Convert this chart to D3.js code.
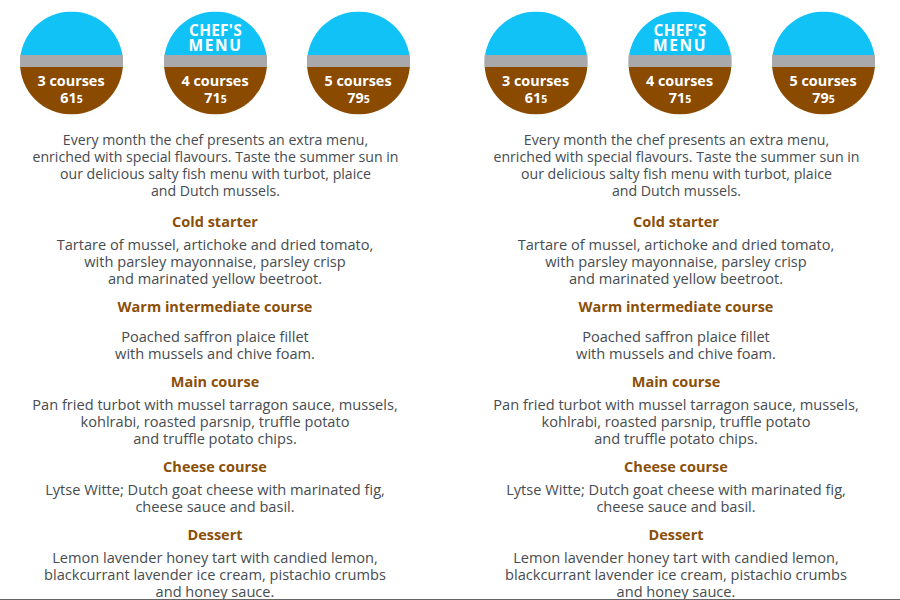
<!DOCTYPE html>
<html lang="en">
<head>
<meta charset="UTF-8">
<title>Chef's Menu</title>
<style>
  html, body { margin: 0; padding: 0; background: #fff; }
  svg { display: block; font-family: "Open Sans", "Noto Sans", sans-serif; }
</style>
</head>
<body>
<div id="chart"></div>
<script src="https://cdnjs.cloudflare.com/ajax/libs/d3/7.8.5/d3.min.js"></script>
<script>
// menu content
const courses = ["3 courses", "4 courses", "5 courses"];
const prices = ["61", "71", "79"];
const priceSuffix = "5";
const badgeTitles = [[], ["CHEF'S", "MENU"], []];
const intro = [
  "Every month the chef presents an extra menu,",
  "enriched with special flavours. Taste the summer sun in",
  "our delicious salty fish menu with turbot, plaice",
  "and Dutch mussels."
];
const headings = ["Cold starter", "Warm intermediate course", "Main course", "Cheese course", "Dessert"];
const dishes = [
  ["Tartare of mussel, artichoke and dried tomato,", "with parsley mayonnaise, parsley crisp", "and marinated yellow beetroot."],
  ["Poached saffron plaice fillet", "with mussels and chive foam."],
  ["Pan fried turbot with mussel tarragon sauce, mussels,", "kohlrabi, roasted parsnip, truffle potato", "and truffle potato chips."],
  ["Lytse Witte; Dutch goat cheese with marinated fig,", "cheese sauce and basil."],
  ["Lemon lavender honey tart with candied lemon,", "blackcurrant lavender ice cream, pistachio crumbs", "and honey sauce."]
];

const width = 900, height = 600;
const lineHeight = 17;
const blue = "#10c2f5", grey = "#a9a9ab", brown = "#8a4a00", headingCol = "#8c4f08", textCol = "#464c50";

const svg = d3.select("#chart").append("svg")
  .attr("width", width)
  .attr("height", height)
  .attr("viewBox", `0 0 ${width} ${height}`);

// the page shows the same menu card twice
const pages = [
  { cx: 215, badges: [71.5, 215.5, 358.5] },
  { cx: 676, badges: [536, 680, 823.5] }
];
const radius = 51.5, badgeY = 63;
const headingY = [222, 307, 382, 467, 535];
const dishY = [245, 337, 405, 490, 558];

function centred(g, lines, x, y, size, fill, weight) {
  g.append("g").selectAll("text")
    .data(lines)
    .enter()
    .append("text")
    .attr("x", x)
    .attr("y", (d, i) => y + i * lineHeight)
    .attr("dy", "0.35em")
    .attr("text-anchor", "middle")
    .attr("font-size", size)
    .attr("font-weight", weight)
    .attr("fill", fill)
    .text(d => d);
}

pages.forEach((page, p) => {
  const g = svg.append("g");

  page.badges.forEach((bx, i) => {
    const clipId = `clip-${p}-${i}`;
    g.append("clipPath").attr("id", clipId)
      .append("circle").attr("cx", bx).attr("cy", badgeY).attr("r", radius);
    const b = g.append("g").attr("clip-path", `url(#${clipId})`);
    b.append("rect").attr("x", bx - radius).attr("y", badgeY - radius)
      .attr("width", radius * 2).attr("height", radius).attr("fill", blue);
    b.append("rect").attr("x", bx - radius).attr("y", badgeY)
      .attr("width", radius * 2).attr("height", radius).attr("fill", brown);

    // band sticks out of the circle a little, so not clipped
    g.append("rect").attr("x", bx - radius).attr("y", 55)
      .attr("width", radius * 2).attr("height", 12).attr("fill", grey);

    g.append("text").attr("x", bx - 0.5).attr("y", 81).attr("dy", "0.35em")
      .attr("text-anchor", "middle").attr("font-size", 14.4).attr("font-weight", 700)
      .attr("fill", "#fff").text(courses[i]);

    const price = g.append("text").attr("x", bx).attr("y", 98).attr("dy", "0.35em")
      .attr("text-anchor", "middle").attr("font-size", 14.4).attr("font-weight", 700)
      .attr("fill", "#fff");
    price.append("tspan").text(prices[i]);
    price.append("tspan").attr("font-size", 10.5).text(priceSuffix);

    g.append("g").selectAll("text")
      .data(badgeTitles[i])
      .enter()
      .append("text")
      .attr("x", bx)
      .attr("y", (d, k) => 31 + k * 14.5)
      .attr("dy", "0.35em")
      .attr("text-anchor", "middle")
      .attr("font-size", 15.5)
      .attr("font-weight", 700)
      .attr("letter-spacing", (d, k) => k === 1 ? 1.6 : 0.2)
      .attr("fill", "#fff")
      .text(d => d);
  });

  centred(g, intro, page.cx + 0.5, 140, 14.15, textCol, 400);

  headings.forEach((h, i) => {
    centred(g, [h], page.cx, headingY[i], 14.5, headingCol, 700);
    centred(g, dishes[i], page.cx, dishY[i], 14.6, textCol, 400);
  });
});

// hairline at the bottom of the page
svg.append("line")
  .attr("x1", 0).attr("x2", width)
  .attr("y1", 599.5).attr("y2", 599.5)
  .attr("stroke", "#666")
  .attr("stroke-width", 1);
</script>
</body>
</html>
